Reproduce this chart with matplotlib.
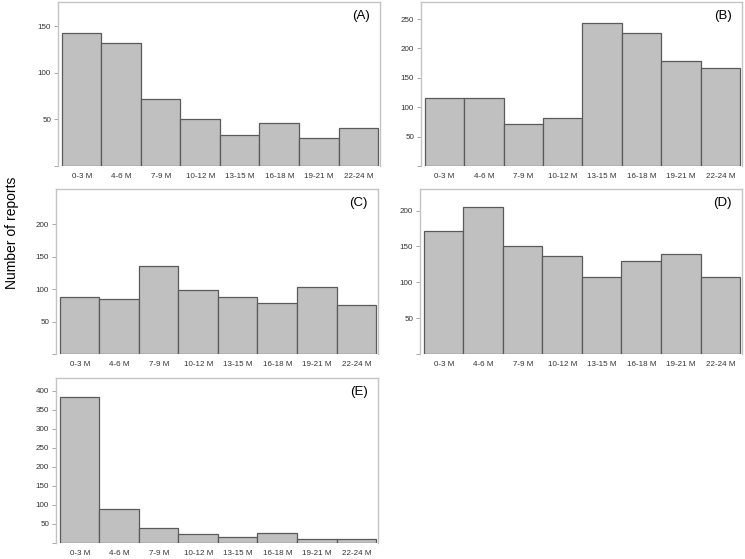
import matplotlib
matplotlib.use("Agg")
import matplotlib.pyplot as plt

plt.rcParams["font.family"] = ["Liberation Sans", "DejaVu Sans"]

# 月龄分组（横轴）
periods = ["0-3 M", "4-6 M", "7-9 M", "10-12 M", "13-15 M", "16-18 M", "19-21 M", "22-24 M"]

# 各面板的报告数
counts_a = [143, 132, 72, 50, 33, 46, 30, 41]
counts_b = [115, 115, 71, 82, 243, 227, 178, 167]
counts_c = [87, 85, 136, 98, 87, 78, 103, 76]
counts_d = [171, 205, 150, 136, 108, 129, 139, 107]
counts_e = [382, 88, 39, 24, 16, 26, 10, 10]

panel_names = ["(A)", "(B)", "(C)", "(D)", "(E)"]
y_max = [176, 279, 254, 230, 433]
y_ticks = [[0, 50, 100, 150],
           [0, 50, 100, 150, 200, 250],
           [0, 50, 100, 150, 200],
           [0, 50, 100, 150, 200],
           [0, 50, 100, 150, 200, 250, 300, 350, 400]]

W, H = 745, 559
fig = plt.figure(figsize=(W / 100, H / 100), dpi=100)

# 像素位置 (left, top, right, bottom)
boxes = [(58, 2, 380, 166), (421, 2, 742, 166),
         (56, 189, 378, 354), (420, 189, 742, 354),
         (56, 378, 378, 543)]

all_counts = [counts_a, counts_b, counts_c, counts_d, counts_e]
frame_col = "#c4c4c4"

for counts, name, ymax, yt, (l, t, r, b) in zip(all_counts, panel_names, y_max, y_ticks, boxes):
    ax = fig.add_axes([l / W, 1 - b / H, (r - l) / W, (b - t) / H])
    xs = range(len(periods))
    ax.bar(xs, counts, width=1.0, color="#c0c0c0", edgecolor="#5a5a5a", linewidth=0.9)
    ax.set_xlim(-0.6, len(periods) - 0.45)
    ax.set_ylim(0, ymax)
    ax.set_xticks(list(xs))
    ax.set_xticklabels(periods, fontsize=5.8, color="#333333")
    ax.tick_params(axis="x", length=0, pad=5)
    ax.set_yticks(yt)
    ax.set_yticklabels(["" if v == 0 else str(v) for v in yt], fontsize=5.8, color="#333333")
    ax.tick_params(axis="y", length=3, width=0.6, color="#999999", pad=2)
    for side in ["top", "left", "right"]:
        ax.spines[side].set_color(frame_col)
        ax.spines[side].set_linewidth(1.0)
    ax.spines["bottom"].set_visible(False)
    ax.text(0.94, 0.915, name, transform=ax.transAxes, ha="center", va="center",
            fontsize=9.5)

fig.text(12 / W, 1 - 233 / H, "Number of reports", rotation=90,
         ha="center", va="center", fontsize=10)

plt.savefig("out.png", dpi=100, facecolor="white")
